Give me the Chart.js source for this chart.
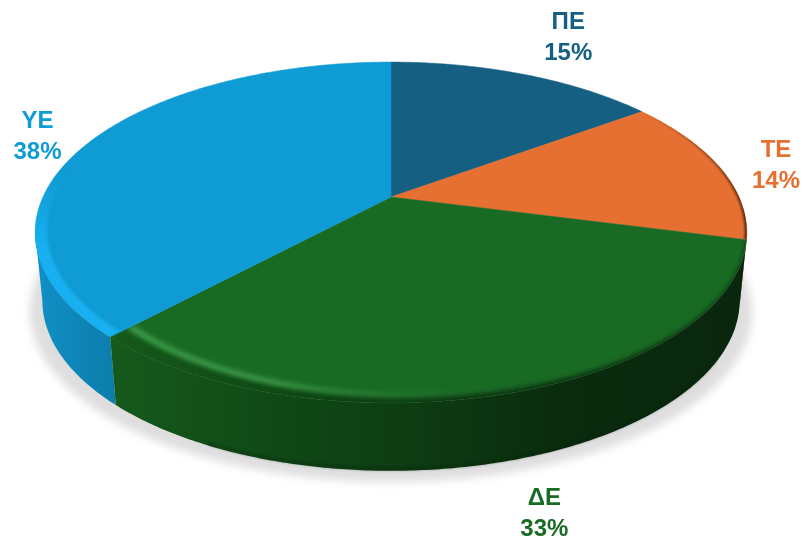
<!DOCTYPE html>
<html>
<head>
<meta charset="utf-8">
<style>
  html, body { margin: 0; padding: 0; background: #ffffff; }
  canvas { display: block; }
</style>
<script src="https://cdn.jsdelivr.net/npm/chart.js@4"></script>
</head>
<body>
<canvas id="pieChart" width="803" height="544"></canvas>
<script>
// ===============================
// DATA
// ===============================
const categories = ["ΠΕ", "ΤΕ", "ΔΕ", "ΥΕ"];
const shares = [15, 14, 33, 38];
const sliceColors = ["#156082", "#E67031", "#196B24", "#0F9BD4"];

// ===============================
// 3D VIEW SETTINGS
// ===============================
const APEX_X = 391, APEX_Y = 197;
const RADIUS_X = 348, RADIUS_Y = 163;
const TILT = 0.208;         // perspective strength
const DEPTH = 68;           // wall height
const BOTTOM_SCALE = 0.98;  // lower rim is a bit narrower
const labelOffsets = [[44, -37], [56, -2], [32, 121], [-53, -4]];
const greenWallStops = [
  [0, "#16591c"], [0.3, "#0f4615"], [0.5, "#0d3a12"], [0.72, "#0a2b0e"], [1, "#0a270d"]
];

// circle point (polar, chart.js angle) -> screen
function project(angle, r, dy, sx) {
  const u = Math.cos(angle) * r;
  const v = Math.sin(angle) * r;
  const d = 1 - TILT * v;
  return {
    x: APEX_X + (RADIUS_X * u / d) * (sx || 1),
    y: APEX_Y + RADIUS_Y * v / d + (dy || 0)
  };
}

function traceArc(ctx, from, to, r, dy, sx, first) {
  const steps = Math.max(2, Math.ceil(Math.abs(to - from) / 0.01));
  for (let i = 0; i <= steps; i++) {
    const a = from + (to - from) * i / steps;
    const p = project(a, typeof r === "function" ? r(a) : r, dy, sx);
    if (i === 0 && first) ctx.moveTo(p.x, p.y);
    else ctx.lineTo(p.x, p.y);
  }
}

function slicePath(ctx, arc) {
  ctx.beginPath();
  ctx.moveTo(APEX_X, APEX_Y);
  traceArc(ctx, arc.startAngle, arc.endAngle, 1, 0, 1, false);
  ctx.closePath();
}

function hGrad(ctx, x0, x1, stops) {
  const g = ctx.createLinearGradient(x0, 0, x1, 0);
  stops.forEach(s => g.addColorStop(s[0], s[1]));
  return g;
}

function drawShadow(ctx) {
  ctx.save();
  ctx.filter = "blur(4px)";
  ctx.fillStyle = "#dedede";
  ctx.beginPath();
  traceArc(ctx, 0, Math.PI * 2, 1, DEPTH + 11, 1.015, true);
  ctx.closePath();
  ctx.fill();
  ctx.restore();
}

// wall only on the front part, between the two side silhouette angles
function drawWall(ctx, arc, style) {
  const edge = Math.asin(TILT);
  const from = Math.max(arc.startAngle, edge);
  const to = Math.min(arc.endAngle, Math.PI - edge);
  if (to <= from) return;
  ctx.beginPath();
  traceArc(ctx, from, to, 1, 0, 1, true);
  traceArc(ctx, to, from, 1, DEPTH, BOTTOM_SCALE, false);
  ctx.closePath();
  ctx.fillStyle = style;
  ctx.fill();
}

// soft band along the rim, kept inside the slice
function rimBand(ctx, arc, r0, r1, style, blur) {
  ctx.save();
  slicePath(ctx, arc);
  ctx.clip();
  ctx.filter = "blur(" + blur + "px)";
  ctx.beginPath();
  traceArc(ctx, arc.startAngle, arc.endAngle, r1, 0, 1, true);
  traceArc(ctx, arc.endAngle, arc.startAngle, r0, 0, 1, false);
  ctx.closePath();
  ctx.fillStyle = style;
  ctx.fill();
  ctx.restore();
}

const pie3dPlugin = {
  id: "pie3d",
  beforeDatasetsDraw(chart) {
    const ctx = chart.ctx;
    const arcs = chart.getDatasetMeta(0).data;

    drawShadow(ctx);

    // walls
    drawWall(ctx, arcs[1], "#6e3517");
    drawWall(ctx, arcs[3], hGrad(ctx, 36, 120, [[0, "#1090c6"], [1, "#0c7ca9"]]));
    drawWall(ctx, arcs[2], hGrad(ctx, 113, 745, greenWallStops));

    // darker foot of the green wall
    ctx.save();
    ctx.filter = "blur(1.5px)";
    ctx.strokeStyle = "rgba(8,35,12,0.6)";
    ctx.lineWidth = 2;
    ctx.beginPath();
    traceArc(ctx, arcs[2].startAngle + 0.3, arcs[2].endAngle - 0.3, 0.997, DEPTH - 1, BOTTOM_SCALE, true);
    ctx.stroke();
    ctx.restore();

    // top faces
    arcs.forEach((arc, i) => {
      slicePath(ctx, arc);
      ctx.fillStyle = sliceColors[i];
      ctx.fill();
      ctx.strokeStyle = sliceColors[i];
      ctx.lineWidth = 0.5;
      ctx.stroke();
    });

    // bright band on the blue slice
    const blueBand = ctx.createLinearGradient(0, 170, 0, 250);
    blueBand.addColorStop(0, "rgba(24,176,240,0)");
    blueBand.addColorStop(1, "rgba(24,176,240,1)");
    rimBand(ctx, arcs[3], 0.968, 1.02, blueBand, 1.5);

    // thin burnt edge on the orange slice
    const orangeEdge = ctx.createLinearGradient(640, 0, 747, 0);
    orangeEdge.addColorStop(0, "rgba(110,55,25,0)");
    orangeEdge.addColorStop(0.5, "rgba(110,55,25,0.6)");
    orangeEdge.addColorStop(1, "rgba(90,40,15,1)");
    rimBand(ctx, arcs[1], 0.994, 1.02, orangeEdge, 1);

    // green bevel: dark edge creeping inwards to the left, lit line above it
    const a0 = arcs[2].startAngle, a1 = arcs[2].endAngle;
    const bevel = a => {
      const t = (a - a0) / (a1 - a0);
      return 1 - 0.05 * t * t;
    };
    rimBand(ctx, arcs[2], bevel, 1.03, hGrad(ctx, 113, 745, greenWallStops), 2.5);
    rimBand(ctx, arcs[2], a => bevel(a) - 0.022, a => bevel(a) - 0.002, hGrad(ctx, 113, 745, [
      [0, "rgba(64,158,76,0.9)"], [0.25, "rgba(64,158,76,0.85)"],
      [0.48, "rgba(50,130,60,0.35)"], [0.6, "rgba(50,130,60,0)"], [1, "rgba(50,130,60,0)"]
    ]), 2);

    return false; // faces are painted above, not by the flat arc element
  },
  afterDraw(chart) {
    const ctx = chart.ctx;
    const arcs = chart.getDatasetMeta(0).data;
    ctx.save();
    ctx.font = "bold 24px 'Liberation Sans'";
    ctx.textAlign = "center";
    ctx.textBaseline = "middle";
    arcs.forEach((arc, i) => {
      const rim = project((arc.startAngle + arc.endAngle) / 2, 1);
      const x = rim.x + labelOffsets[i][0];
      const y = rim.y + labelOffsets[i][1];
      ctx.fillStyle = sliceColors[i];
      ctx.fillText(categories[i], x, y - 15.5);
      ctx.fillText(shares[i] + "%", x, y + 15.5);
    });
    ctx.restore();
  }
};

new Chart(document.getElementById("pieChart"), {
  type: "pie",
  data: {
    labels: categories,
    datasets: [{ data: shares, backgroundColor: sliceColors, borderWidth: 0 }]
  },
  options: {
    responsive: false,
    animation: false,
    events: [],
    plugins: {
      legend: { display: false },
      tooltip: { enabled: false }
    }
  },
  plugins: [pie3dPlugin]
});
</script>
</body>
</html>
